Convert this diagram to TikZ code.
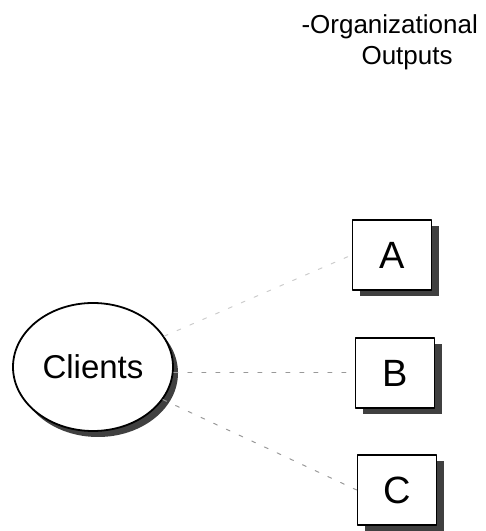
\documentclass[tikz,border=0pt]{standalone}
\usepackage{fontspec}
\setmainfont{Liberation Sans}
\usetikzlibrary{shapes.geometric,shadows}

\begin{document}
\begin{tikzpicture}[x=1pt,y=1pt,line join=round,line cap=round,
  outbox/.style={draw,line width=1.6pt,fill=white,minimum width=79pt,minimum height=70pt,
    inner sep=0pt,font=\fontsize{38}{38}\selectfont,
    drop shadow={shadow xshift=7pt,shadow yshift=-6pt,fill=black!75,opacity=1}},
  client/.style={ellipse,draw,line width=1.8pt,fill=white,minimum width=160pt,minimum height=128pt,
    inner sep=0pt,font=\fontsize{33}{33}\selectfont,
    drop shadow={shadow xshift=5pt,shadow yshift=-6pt,fill=black!75,opacity=1}},
  link/.style={black!40,line width=1pt,dash pattern=on 4pt off 10pt}]
\useasboundingbox (0,0) rectangle (486,531);
\path
(93,164)coordinate(cl)
(392,276)coordinate(pa)
(395,158)coordinate(pb)
(397,41)coordinate(pc);
% heading
\node[anchor=base west,align=left,font=\fontsize{26}{31}\selectfont] (outputs) at (298,466)
  {-Organizational\\\hspace*{60pt}Outputs};
% clients and the three outputs
\node[client] (clients) at (cl) {Clients};
\foreach \p/\n in {pa/A,pb/B,pc/C}
\node[outbox] (\n) at (\p) {\n};
\draw[link,black!20] (clients) -- (A.west);
\draw[link] (B.west -| clients.east) -- (B.west);
\draw[link] (clients) -- (C.west);
\end{tikzpicture}
\end{document}
